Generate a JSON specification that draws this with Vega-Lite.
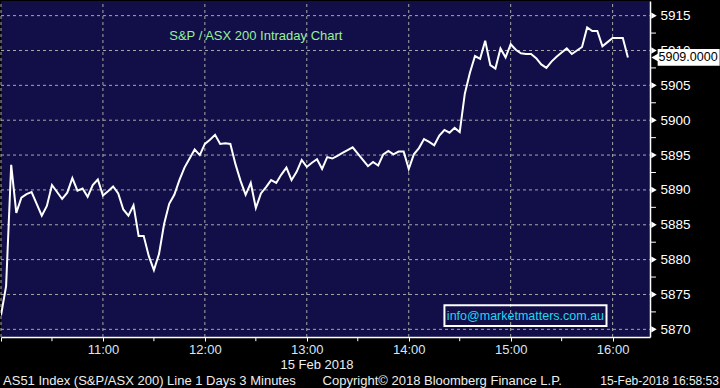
{
  "$schema": "https://vega.github.io/schema/vega-lite/v6.json",
  "width": 649,
  "height": 336,
  "padding": 0,
  "autosize": {"type": "pad"},
  "background": "#000000",
  "config": {"view": {"fill": "#110e48", "stroke": null}, "font": "Liberation Sans"},
  "resolve": {"axis": {"x": "independent", "y": "independent"}},
  "data": {"values": [
      {"m": 0, "v": 5872.0}, {"m": 3, "v": 5876.2}, {"m": 6, "v": 5893.6}, {"m": 9, "v": 5886.7},
      {"m": 12, "v": 5888.9}, {"m": 15, "v": 5889.4}, {"m": 18, "v": 5889.7}, {"m": 21, "v": 5888.0},
      {"m": 24, "v": 5886.3}, {"m": 27, "v": 5887.7}, {"m": 30, "v": 5890.7}, {"m": 33, "v": 5889.7},
      {"m": 36, "v": 5888.7}, {"m": 39, "v": 5889.6}, {"m": 42, "v": 5891.7}, {"m": 45, "v": 5889.9},
      {"m": 48, "v": 5890.2}, {"m": 51, "v": 5889.0}, {"m": 54, "v": 5890.7}, {"m": 57, "v": 5891.5},
      {"m": 60, "v": 5889.2}, {"m": 63, "v": 5889.8}, {"m": 66, "v": 5890.5}, {"m": 69, "v": 5889.5},
      {"m": 72, "v": 5887.2}, {"m": 75, "v": 5886.3}, {"m": 78, "v": 5887.8}, {"m": 81, "v": 5883.4},
      {"m": 84, "v": 5883.4}, {"m": 87, "v": 5880.5}, {"m": 90, "v": 5878.5}, {"m": 93, "v": 5880.8},
      {"m": 96, "v": 5885.1}, {"m": 99, "v": 5888.0}, {"m": 102, "v": 5889.3}, {"m": 105, "v": 5891.4},
      {"m": 108, "v": 5893.2}, {"m": 111, "v": 5894.5}, {"m": 114, "v": 5895.8}, {"m": 117, "v": 5895.0},
      {"m": 120, "v": 5896.6}, {"m": 123, "v": 5897.2}, {"m": 126, "v": 5897.9}, {"m": 129, "v": 5896.6},
      {"m": 132, "v": 5896.7}, {"m": 135, "v": 5896.6}, {"m": 138, "v": 5893.7}, {"m": 141, "v": 5891.3},
      {"m": 144, "v": 5889.3}, {"m": 147, "v": 5891.0}, {"m": 150, "v": 5887.4}, {"m": 153, "v": 5889.5},
      {"m": 156, "v": 5890.4}, {"m": 159, "v": 5891.4}, {"m": 162, "v": 5891.0}, {"m": 165, "v": 5892.2},
      {"m": 168, "v": 5893.2}, {"m": 171, "v": 5891.4}, {"m": 174, "v": 5892.6}, {"m": 177, "v": 5894.3},
      {"m": 180, "v": 5893.3}, {"m": 183, "v": 5893.9}, {"m": 186, "v": 5894.4}, {"m": 189, "v": 5893.0},
      {"m": 192, "v": 5894.7}, {"m": 195, "v": 5894.5}, {"m": 198, "v": 5894.9}, {"m": 201, "v": 5895.3},
      {"m": 204, "v": 5895.7}, {"m": 207, "v": 5896.1}, {"m": 210, "v": 5895.2}, {"m": 213, "v": 5894.3},
      {"m": 216, "v": 5893.4}, {"m": 219, "v": 5894.0}, {"m": 222, "v": 5893.5}, {"m": 225, "v": 5895.1},
      {"m": 228, "v": 5895.6}, {"m": 231, "v": 5895.1}, {"m": 234, "v": 5895.5}, {"m": 237, "v": 5895.5},
      {"m": 240, "v": 5893.0}, {"m": 243, "v": 5895.1}, {"m": 246, "v": 5896.0}, {"m": 249, "v": 5897.3},
      {"m": 252, "v": 5896.9}, {"m": 255, "v": 5896.4}, {"m": 258, "v": 5897.8}, {"m": 261, "v": 5898.6},
      {"m": 264, "v": 5898.2}, {"m": 267, "v": 5898.9}, {"m": 270, "v": 5898.3}, {"m": 273, "v": 5903.8},
      {"m": 276, "v": 5906.8}, {"m": 279, "v": 5909.2}, {"m": 282, "v": 5908.8}, {"m": 285, "v": 5911.4},
      {"m": 288, "v": 5907.9}, {"m": 291, "v": 5907.4}, {"m": 294, "v": 5910.3}, {"m": 297, "v": 5909.0},
      {"m": 300, "v": 5910.9}, {"m": 303, "v": 5910.1}, {"m": 306, "v": 5909.6}, {"m": 309, "v": 5909.5},
      {"m": 312, "v": 5909.5}, {"m": 315, "v": 5908.9}, {"m": 318, "v": 5908.0}, {"m": 321, "v": 5907.5},
      {"m": 324, "v": 5908.4}, {"m": 327, "v": 5909.1}, {"m": 330, "v": 5909.7}, {"m": 333, "v": 5910.3},
      {"m": 336, "v": 5909.5}, {"m": 339, "v": 5910.0}, {"m": 342, "v": 5910.5}, {"m": 345, "v": 5913.3},
      {"m": 348, "v": 5912.8}, {"m": 351, "v": 5912.8}, {"m": 354, "v": 5910.6}, {"m": 357, "v": 5911.2},
      {"m": 360, "v": 5911.8}, {"m": 363, "v": 5911.8}, {"m": 366, "v": 5911.8}, {"m": 369, "v": 5909.0}
  ]},
  "layer": [
    {
      "data": {"values": [{"h": 0}, {"h": 60}, {"h": 120}, {"h": 180}, {"h": 240}, {"h": 300}, {"h": 360}]},
      "mark": {"type": "rule", "color": "#a8a8a8", "strokeWidth": 1, "strokeDash": [3, 3]},
      "encoding": {
        "x": {"field": "h", "type": "quantitative", "axis": null},
        "y": {"datum": 5868.9, "type": "quantitative", "axis": null},
        "y2": {"datum": 5917.1}
      }
    },
    {
      "data": {"values": [{"g": 5870}, {"g": 5875}, {"g": 5880}, {"g": 5885}, {"g": 5890}, {"g": 5895}, {"g": 5900}, {"g": 5905}, {"g": 5910}, {"g": 5915}]},
      "mark": {"type": "rule", "color": "#a8a8a8", "strokeWidth": 1, "strokeDash": [3, 3]},
      "encoding": {
        "x": {"datum": 0, "type": "quantitative", "axis": null},
        "x2": {"datum": 382},
        "y": {"field": "g", "type": "quantitative", "axis": null}
      }
    },
    {
      "mark": {"type": "line", "color": "#ffffff", "strokeWidth": 2, "clip": true},
      "encoding": {
        "x": {
          "field": "m", "type": "quantitative",
          "scale": {"domain": [0, 382], "nice": false, "zero": false},
          "axis": {"orient": "bottom", "title": null, "grid": false, "values": [0, 60, 120, 180, 240, 300, 360],
            "labelExpr": "datum.value > 0 ? (10 + datum.value / 60) + ':00' : ''",
            "labelColor": "#d6e6ff", "labelFontSize": 13, "labelFont": "Liberation Sans", "labelFlush": false, "labelOverlap": false, "labelPadding": 2,
            "tickColor": "#ffffff", "tickSize": 4, "tickWidth": 1, "domainColor": "#ffffff", "domainWidth": 1.5}
        },
        "y": {
          "field": "v", "type": "quantitative",
          "scale": {"domain": [5868.9, 5917.1], "nice": false, "zero": false},
          "axis": {"orient": "right", "title": null, "grid": false, "values": [5870, 5875, 5880, 5885, 5890, 5895, 5900, 5905, 5910, 5915],
            "labelExpr": "format(datum.value, 'd')",
            "labelColor": "#ffffff", "labelFontSize": 13.5, "labelFont": "Liberation Sans", "labelFlush": false, "labelOverlap": false, "labelPadding": 10,
            "ticks": false, "domainColor": "#ffffff", "domainWidth": 1.5}
        }
      }
    },
    {
      "data": {"values": [{"h": 30}, {"h": 90}, {"h": 150}, {"h": 210}, {"h": 270}, {"h": 330}]},
      "mark": {"type": "rule", "color": "#ffffff", "strokeWidth": 1},
      "encoding": {
        "x": {"field": "h", "type": "quantitative", "axis": null},
        "y": {"datum": 5868.9, "type": "quantitative", "axis": null},
        "y2": {"datum": 5868.3}
      }
    },
    {
      "data": {"values": [{"g": 5872.5}, {"g": 5877.5}, {"g": 5882.5}, {"g": 5887.5}, {"g": 5892.5}, {"g": 5897.5}, {"g": 5902.5}, {"g": 5907.5}, {"g": 5912.5}]},
      "mark": {"type": "rule", "color": "#ffffff", "strokeWidth": 1},
      "encoding": {
        "x": {"datum": 382, "type": "quantitative", "axis": null},
        "x2": {"datum": 385.5},
        "y": {"field": "g", "type": "quantitative", "axis": null}
      }
    },
    {
      "data": {"values": [{"g": 5870}, {"g": 5875}, {"g": 5880}, {"g": 5885}, {"g": 5890}, {"g": 5895}, {"g": 5900}, {"g": 5905}, {"g": 5910}, {"g": 5915}]},
      "mark": {"type": "point", "shape": "triangle-right", "filled": true, "color": "#ffffff", "opacity": 1, "size": 40, "xOffset": 4},
      "encoding": {
        "x": {"datum": 382, "type": "quantitative", "axis": null},
        "y": {"field": "g", "type": "quantitative", "axis": null}
      }
    },
    {
      "data": {"values": [{}]},
      "mark": {"type": "text", "text": "S&P / ASX 200 Intraday Chart", "color": "#98f098", "fontSize": 13, "font": "Liberation Sans", "align": "center", "baseline": "middle"},
      "encoding": {
        "x": {"datum": 150, "type": "quantitative", "axis": null},
        "y": {"datum": 5912.07, "type": "quantitative", "axis": null}
      }
    },
    {
      "data": {"values": [{}]},
      "mark": {"type": "rect", "filled": false, "stroke": "#ffffff", "strokeWidth": 2},
      "encoding": {
        "x": {"datum": 261, "type": "quantitative", "axis": null},
        "x2": {"datum": 356.4},
        "y": {"datum": 5873.44, "type": "quantitative", "axis": null},
        "y2": {"datum": 5870.47}
      }
    },
    {
      "data": {"values": [{}]},
      "mark": {"type": "text", "text": "info@marketmatters.com.au", "color": "#20d8f0", "fontSize": 12.5, "font": "Liberation Sans", "align": "center", "baseline": "middle"},
      "encoding": {
        "x": {"datum": 308.7, "type": "quantitative", "axis": null},
        "y": {"datum": 5871.95, "type": "quantitative", "axis": null}
      }
    },
    {
      "data": {"values": [{}]},
      "mark": {"type": "rect", "color": "#ffffff", "opacity": 1},
      "encoding": {
        "x": {"datum": 386.5, "type": "quantitative", "axis": null},
        "x2": {"datum": 423},
        "y": {"datum": 5910.2, "type": "quantitative", "axis": null},
        "y2": {"datum": 5907.8}
      }
    },
    {
      "data": {"values": [{}]},
      "mark": {"type": "point", "shape": "triangle-left", "filled": true, "color": "#ffffff", "opacity": 1, "size": 120},
      "encoding": {
        "x": {"datum": 385.6, "type": "quantitative", "axis": null},
        "y": {"datum": 5909, "type": "quantitative", "axis": null}
      }
    },
    {
      "data": {"values": [{}]},
      "mark": {"type": "text", "text": "5909.0000", "color": "#000000", "fontSize": 12.5, "font": "Liberation Sans", "align": "left", "baseline": "middle"},
      "encoding": {
        "x": {"datum": 387, "type": "quantitative", "axis": null},
        "y": {"datum": 5909, "type": "quantitative", "axis": null}
      }
    },
    {
      "data": {"values": [{}]},
      "mark": {"type": "text", "text": "15 Feb 2018", "color": "#eeeeee", "fontSize": 13, "font": "Liberation Sans", "align": "center", "baseline": "middle"},
      "encoding": {
        "x": {"datum": 186, "type": "quantitative", "axis": null},
        "y": {"datum": 5864.95, "type": "quantitative", "axis": null}
      }
    },
    {
      "data": {"values": [{}]},
      "mark": {"type": "text", "text": "AS51 Index (S&P/ASX 200) Line 1 Days 3 Minutes", "color": "#eeeeee", "fontSize": 13, "font": "Liberation Sans", "align": "left", "baseline": "middle"},
      "encoding": {
        "x": {"datum": 1.2, "type": "quantitative", "axis": null},
        "y": {"datum": 5862.6, "type": "quantitative", "axis": null}
      }
    },
    {
      "data": {"values": [{}]},
      "mark": {"type": "text", "text": "Copyright© 2018 Bloomberg Finance L.P.", "color": "#eeeeee", "fontSize": 13, "font": "Liberation Sans", "align": "left", "baseline": "middle"},
      "encoding": {
        "x": {"datum": 189.3, "type": "quantitative", "axis": null},
        "y": {"datum": 5862.6, "type": "quantitative", "axis": null}
      }
    },
    {
      "data": {"values": [{}]},
      "mark": {"type": "text", "text": "15-Feb-2018 16:58:53", "color": "#eeeeee", "fontSize": 12, "font": "Liberation Sans", "align": "right", "baseline": "middle"},
      "encoding": {
        "x": {"datum": 422.6, "type": "quantitative", "axis": null},
        "y": {"datum": 5862.6, "type": "quantitative", "axis": null}
      }
    }
  ]
}
